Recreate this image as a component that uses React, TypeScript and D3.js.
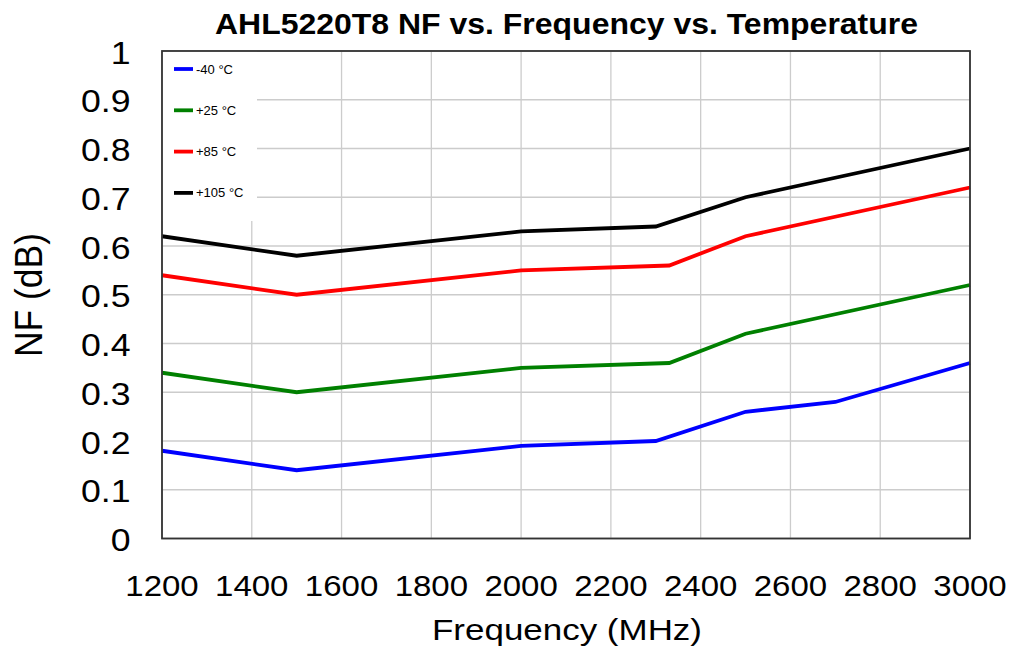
import React from "react";
import * as d3 from "d3";

const title = "AHL5220T8 NF vs. Frequency vs. Temperature";
const xTicks = [1200, 1400, 1600, 1800, 2000, 2200, 2400, 2600, 2800, 3000];
const yTicks = [0, 0.1, 0.2, 0.3, 0.4, 0.5, 0.6, 0.7, 0.8, 0.9, 1];

const freqM40 = [1200, 1500, 2000, 2300, 2500, 2700, 3000];
const nfM40 = [0.18, 0.14, 0.19, 0.2, 0.26, 0.28, 0.36];
const freqP25 = [1200, 1500, 2000, 2330, 2500, 3000];
const nfP25 = [0.34, 0.3, 0.35, 0.36, 0.42, 0.52];
const freqP85 = [1200, 1500, 2000, 2330, 2500, 3000];
const nfP85 = [0.54, 0.5, 0.55, 0.56, 0.62, 0.72];
const freqP105 = [1200, 1500, 2000, 2300, 2500, 3000];
const nfP105 = [0.62, 0.58, 0.63, 0.64, 0.7, 0.8];

const seriesNames = ["-40 °C", "+25 °C", "+85 °C", "+105 °C"];
const seriesColors = ["#0000ff", "#008000", "#ff0000", "#000000"];
const seriesFreqs = [freqM40, freqP25, freqP85, freqP105];
const seriesValues = [nfM40, nfP25, nfP85, nfP105];

export default function App() {
  const W = 1019, H = 655;
  const L = 162, R = 970, T = 51, B = 538.5;
  const x = d3.scaleLinear().domain([1200, 3000]).range([L, R]);
  const y = d3.scaleLinear().domain([0, 1]).range([B, T]);
  const line = d3.line<[number, number]>().x(d => x(d[0])).y(d => y(d[1]));
  const font = "Arial, 'Liberation Sans', sans-serif";

  return (
    <svg width={W} height={H} style={{ position: "absolute", left: 0, top: 0, background: "#fff" }}>
      <text x={215} y={33.5} fontFamily={font} fontWeight="bold" fontSize={29} textLength={703} lengthAdjust="spacingAndGlyphs">{title}</text>
      {xTicks.map(t => (
        <line key={"gx" + t} x1={x(t)} x2={x(t)} y1={T} y2={B} stroke="#cccccc" strokeWidth={1.3} />
      ))}
      {yTicks.map(t => (
        <line key={"gy" + t} x1={L} x2={R} y1={y(t)} y2={y(t)} stroke="#cccccc" strokeWidth={1.3} />
      ))}
      <rect x={L} y={T} width={95} height={170} fill="#fff" />
      {seriesValues.map((vals, i) => (
        <path key={"s" + i} d={line(seriesFreqs[i].map((f, j) => [f, vals[j]] as [number, number])) || ""} fill="none" stroke={seriesColors[i]} strokeWidth={3.8} strokeLinejoin="miter" />
      ))}
      <rect x={L} y={T} width={R - L} height={B - T} fill="none" stroke="#333" strokeWidth={1.8} />
      {seriesNames.map((n, i) => (
        <g key={"lg" + i}>
          <line x1={174} x2={193} y1={69 + i * 41.3} y2={69 + i * 41.3} stroke={seriesColors[i]} strokeWidth={3.8} />
          <text x={196} y={73.5 + i * 41.3} fontFamily={font} fontSize={13}>{n}</text>
        </g>
      ))}
      {yTicks.map(t => (
        <text key={"yl" + t} transform={`translate(130.5,${y(t) + 12.5}) scale(1.15,1)`} textAnchor="end" fontFamily={font} fontSize={31}>{t === 0 || t === 1 ? String(t) : t.toFixed(1)}</text>
      ))}
      {xTicks.map(t => (
        <text key={"xl" + t} transform={`translate(${x(t)},595.5) scale(1.1,1)`} textAnchor="middle" fontFamily={font} fontSize={30}>{t}</text>
      ))}
      <text x={432} y={639.5} fontFamily={font} fontSize={30} textLength={270} lengthAdjust="spacingAndGlyphs">Frequency (MHz)</text>
      <text transform={`translate(42,357) rotate(-90)`} fontFamily={font} fontSize={39} textLength={124} lengthAdjust="spacingAndGlyphs">NF (dB)</text>
    </svg>
  );
}
